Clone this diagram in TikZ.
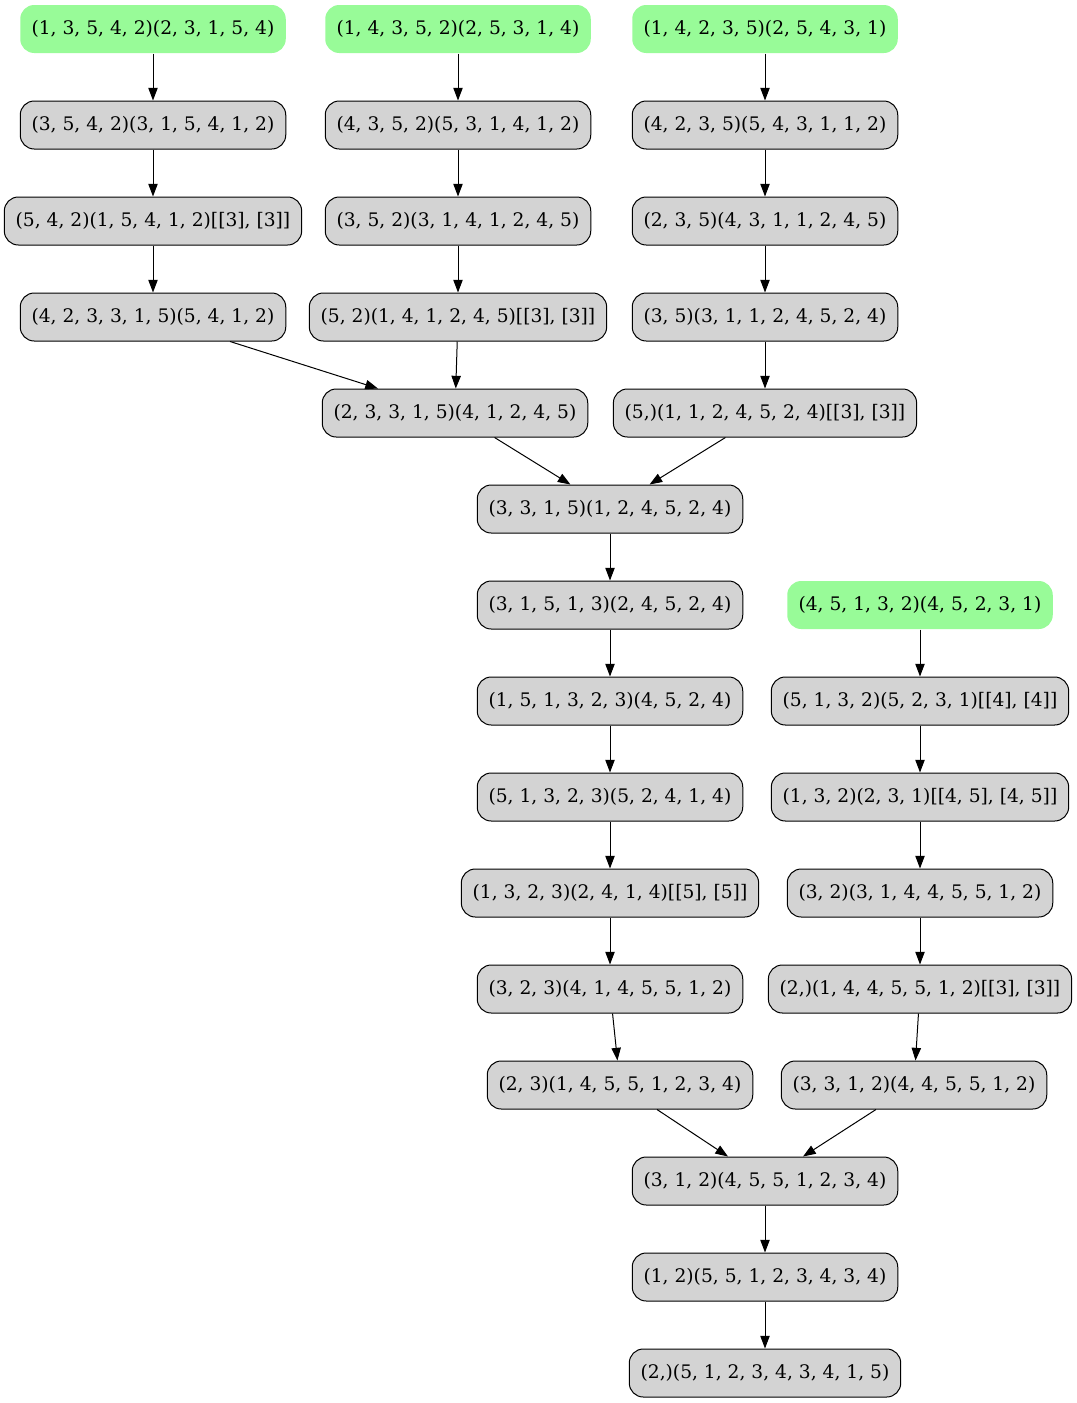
\documentclass[tikz,border=0pt]{standalone}
\usepackage{fontspec}
\setmainfont{DejaVu Serif}
\usetikzlibrary{arrows.meta}
\definecolor{nodegray}{HTML}{D3D3D3}
\definecolor{startgreen}{HTML}{98FB98}
\tikzset{
  box/.style={rectangle, rounded corners=10.5pt, draw=black, line width=0.75pt,
    fill=nodegray, minimum height=36pt, inner xsep=8.5pt, inner ysep=0pt,
    font=\fontsize{14}{16}\selectfont, text=black},
  start/.style={box, draw=none, fill=startgreen},
  edge/.style={draw=black, line width=0.75pt,
    -{Triangle[length=9.5pt,width=7pt]}}
}
\begin{document}
\begin{tikzpicture}[x=0.75pt,y=-0.75pt]
\useasboundingbox (0,0) rectangle (1077,1403);
% column A
\node[start] (A1) at (153,29) {(1, 3, 5, 4, 2)(2, 3, 1, 5, 4)};
\node[box] (A2) at (153,125) {(3, 5, 4, 2)(3, 1, 5, 4, 1, 2)};
\node[box] (A3) at (153,221) {(5, 4, 2)(1, 5, 4, 1, 2)[[3], [3]]};
\node[box] (A4) at (153,317) {(4, 2, 3, 3, 1, 5)(5, 4, 1, 2)};
% column B
\node[start] (B1) at (458,29) {(1, 4, 3, 5, 2)(2, 5, 3, 1, 4)};
\node[box] (B2) at (458,125) {(4, 3, 5, 2)(5, 3, 1, 4, 1, 2)};
\node[box] (B3) at (458,221) {(3, 5, 2)(3, 1, 4, 1, 2, 4, 5)};
\node[box] (B4) at (458,317) {(5, 2)(1, 4, 1, 2, 4, 5)[[3], [3]]};
\node[box] (B5) at (455,413) {(2, 3, 3, 1, 5)(4, 1, 2, 4, 5)};
% column C
\node[start] (C1) at (765,29) {(1, 4, 2, 3, 5)(2, 5, 4, 3, 1)};
\node[box] (C2) at (765,125) {(4, 2, 3, 5)(5, 4, 3, 1, 1, 2)};
\node[box] (C3) at (765,221) {(2, 3, 5)(4, 3, 1, 1, 2, 4, 5)};
\node[box] (C4) at (765,317) {(3, 5)(3, 1, 1, 2, 4, 5, 2, 4)};
\node[box] (C5) at (765,413) {(5,)(1, 1, 2, 4, 5, 2, 4)[[3], [3]]};
% column D
\node[box] (D6) at (610,509) {(3, 3, 1, 5)(1, 2, 4, 5, 2, 4)};
\node[box] (D7) at (610,605) {(3, 1, 5, 1, 3)(2, 4, 5, 2, 4)};
\node[box] (D8) at (610,701) {(1, 5, 1, 3, 2, 3)(4, 5, 2, 4)};
\node[box] (D9) at (610,797) {(5, 1, 3, 2, 3)(5, 2, 4, 1, 4)};
\node[box] (D10) at (610,893) {(1, 3, 2, 3)(2, 4, 1, 4)[[5], [5]]};
\node[box] (D11) at (610,989) {(3, 2, 3)(4, 1, 4, 5, 5, 1, 2)};
\node[box] (D12) at (620,1085) {(2, 3)(1, 4, 5, 5, 1, 2, 3, 4)};
% column E
\node[start] (E7) at (920,605) {(4, 5, 1, 3, 2)(4, 5, 2, 3, 1)};
\node[box] (E8) at (920,701) {(5, 1, 3, 2)(5, 2, 3, 1)[[4], [4]]};
\node[box] (E9) at (920,797) {(1, 3, 2)(2, 3, 1)[[4, 5], [4, 5]]};
\node[box] (E10) at (920,893) {(3, 2)(3, 1, 4, 4, 5, 5, 1, 2)};
\node[box] (E11) at (920,989) {(2,)(1, 4, 4, 5, 5, 1, 2)[[3], [3]]};
\node[box] (E12) at (914,1085) {(3, 3, 1, 2)(4, 4, 5, 5, 1, 2)};
% column F
\node[box] (F13) at (765,1181) {(3, 1, 2)(4, 5, 5, 1, 2, 3, 4)};
\node[box] (F14) at (765,1277) {(1, 2)(5, 5, 1, 2, 3, 4, 3, 4)};
\node[box] (F15) at (765,1373) {(2,)(5, 1, 2, 3, 4, 3, 4, 1, 5)};
% edges
\draw[edge] (A1) -- (A2);
\draw[edge] (A2) -- (A3);
\draw[edge] (A3) -- (A4);
\draw[edge] (A4) -- (B5);
\draw[edge] (B1) -- (B2);
\draw[edge] (B2) -- (B3);
\draw[edge] (B3) -- (B4);
\draw[edge] (B4) -- (B5);
\draw[edge] (C1) -- (C2);
\draw[edge] (C2) -- (C3);
\draw[edge] (C3) -- (C4);
\draw[edge] (C4) -- (C5);
\draw[edge] (B5) -- (D6);
\draw[edge] (C5) -- (D6);
\draw[edge] (D6) -- (D7);
\draw[edge] (D7) -- (D8);
\draw[edge] (D8) -- (D9);
\draw[edge] (D9) -- (D10);
\draw[edge] (D10) -- (D11);
\draw[edge] (D11) -- (D12);
\draw[edge] (E7) -- (E8);
\draw[edge] (E8) -- (E9);
\draw[edge] (E9) -- (E10);
\draw[edge] (E10) -- (E11);
\draw[edge] (E11) -- (E12);
\draw[edge] (D12) -- (F13);
\draw[edge] (E12) -- (F13);
\draw[edge] (F13) -- (F14);
\draw[edge] (F14) -- (F15);
\end{tikzpicture}
\end{document}
